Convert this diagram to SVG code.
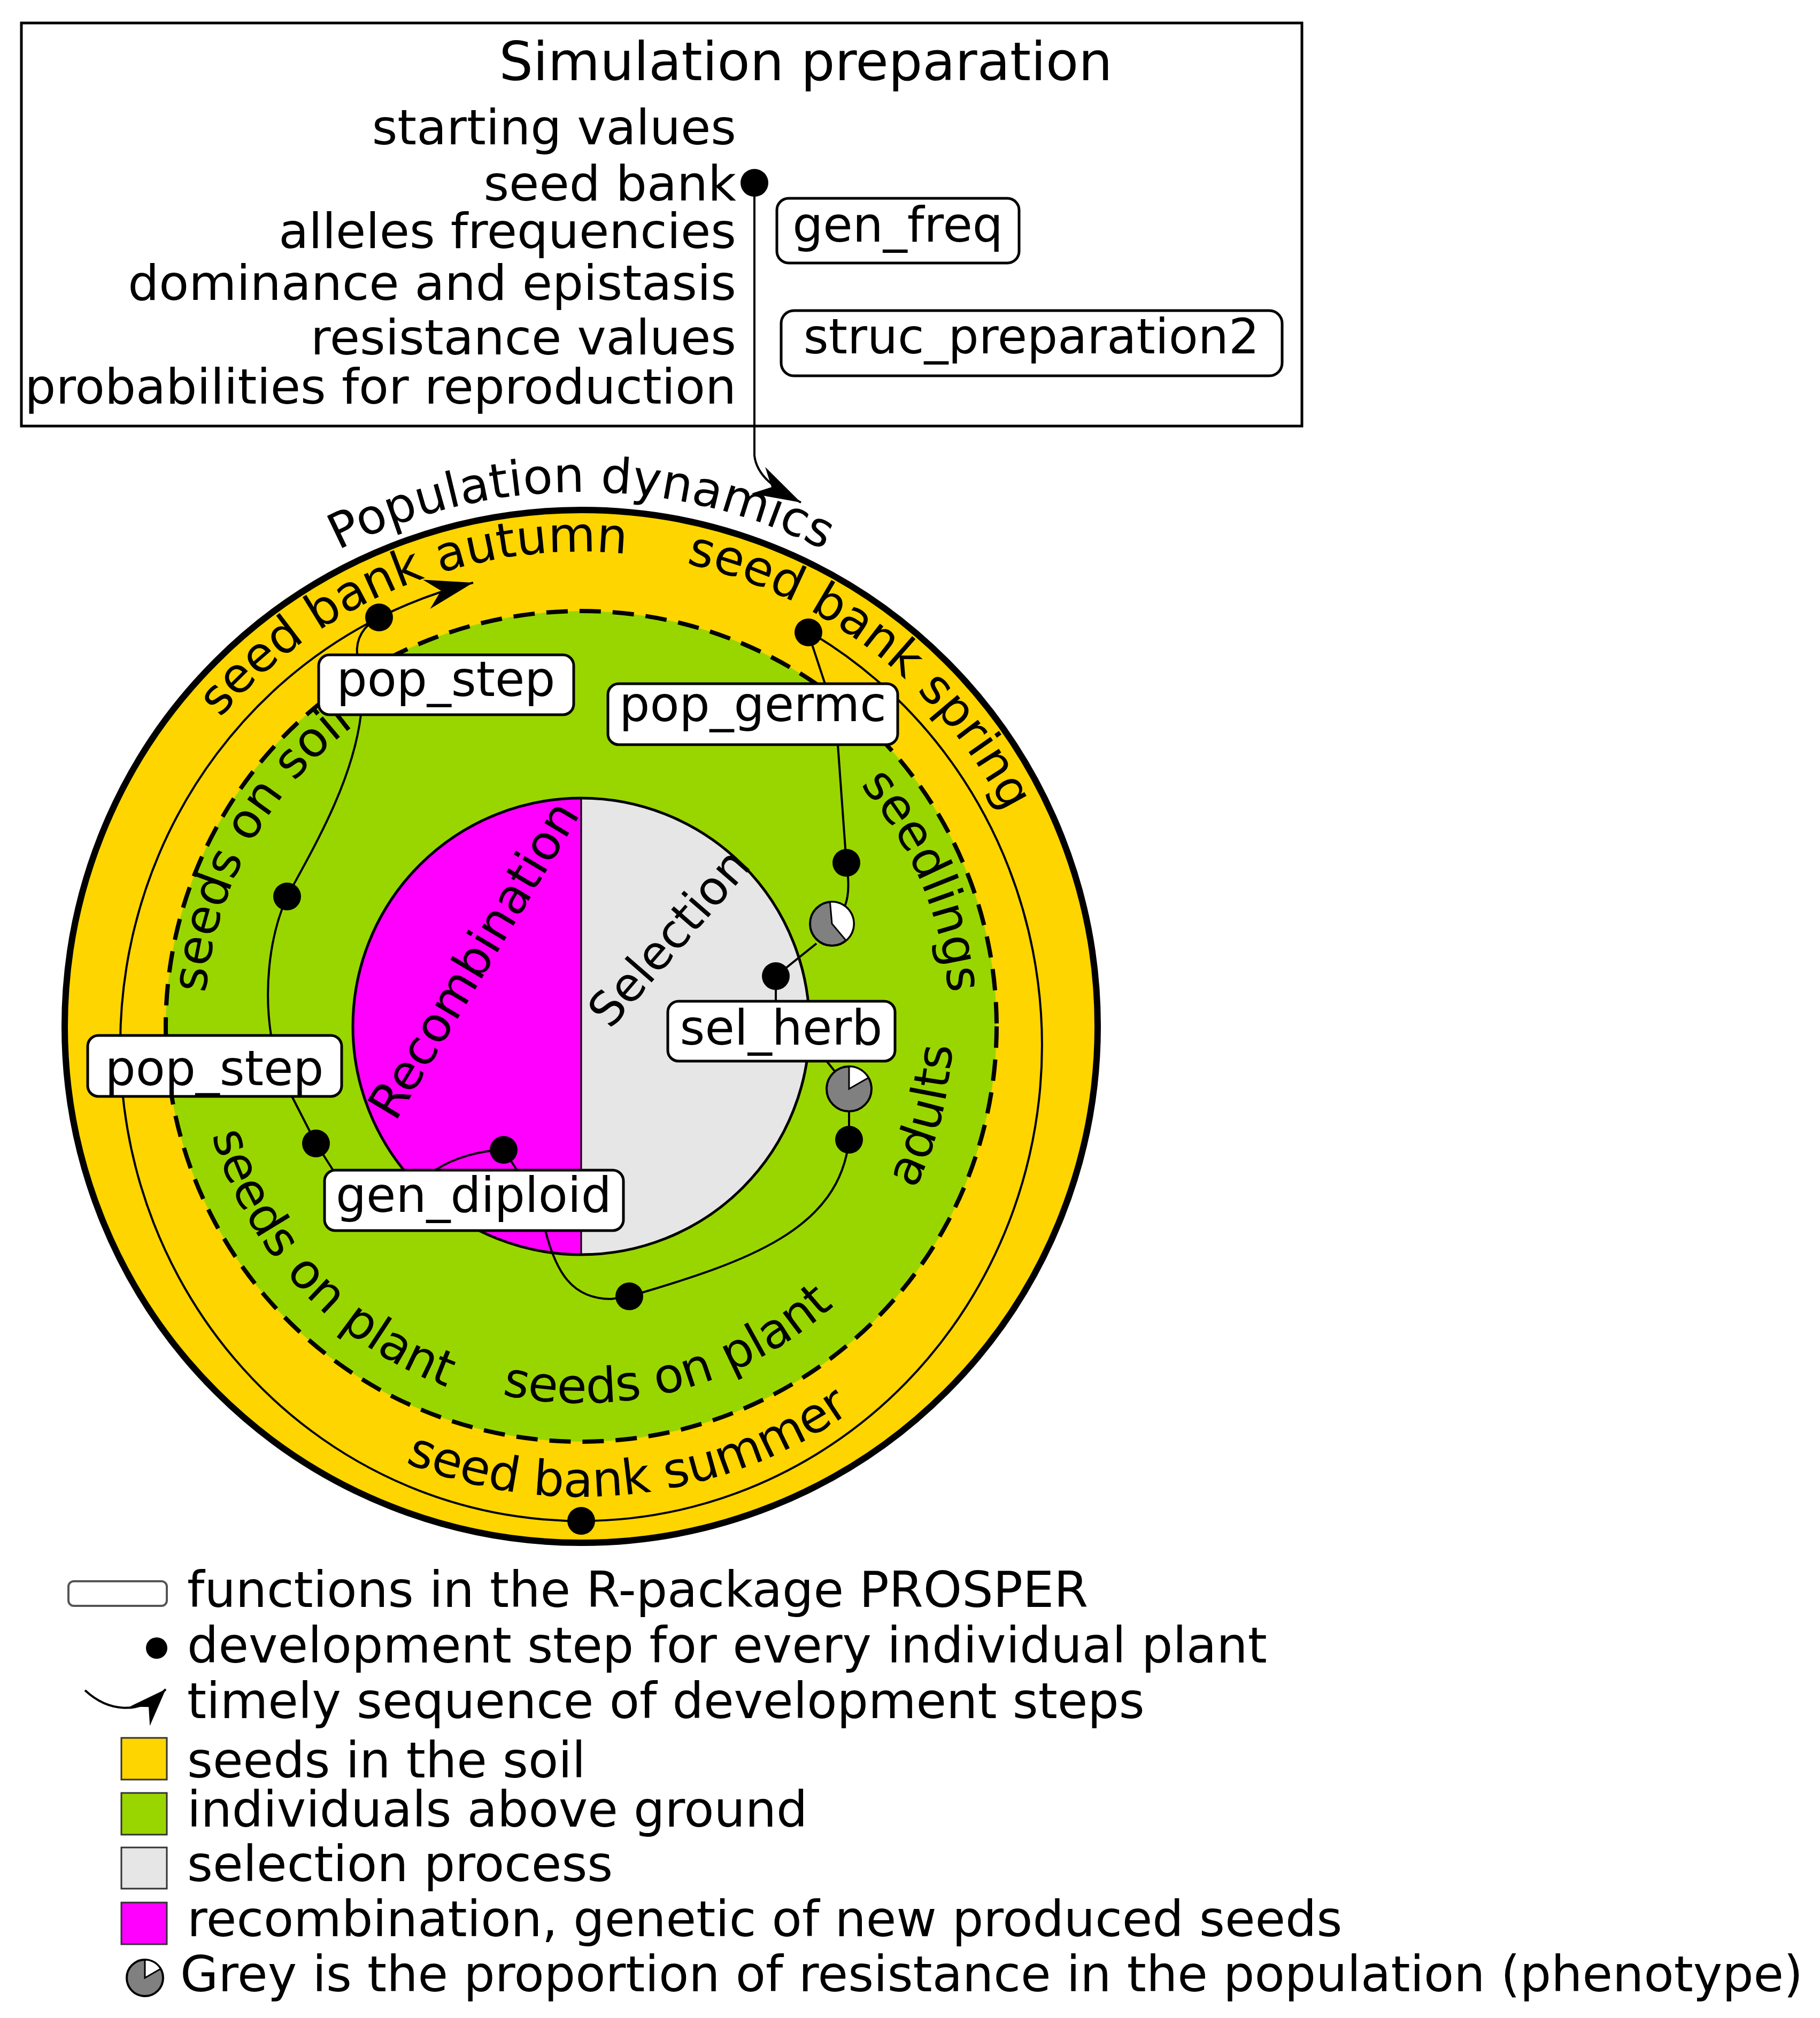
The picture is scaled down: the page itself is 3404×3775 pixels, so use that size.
<svg xmlns="http://www.w3.org/2000/svg" width="3404" height="3775" viewBox="0 0 3404 3775">
<style>
text{font-family:"DejaVu Sans","Liberation Sans",sans-serif;fill:#000}
.t90{font-size:90px}
.t91{font-size:91.5px}
.arc{font-size:91px}
.leg{font-size:92px}
.box{fill:#fff;stroke:#000;stroke-width:5}
.dot{fill:#000}
.ln{fill:none;stroke:#000;stroke-width:4}
.pie{fill:#808080;stroke:#000;stroke-width:4}
.wedge{fill:#fff;stroke:#000;stroke-width:3}
</style>
<defs>
<marker id="arr" markerUnits="userSpaceOnUse" markerWidth="120" markerHeight="80" viewBox="-95 -40 100 80" refX="0" refY="0" orient="auto">
<path d="M0,0 L-90,-28 L-62,0 L-90,28 Z" fill="#000"/>
</marker>
<marker id="arrS" markerUnits="userSpaceOnUse" markerWidth="80" markerHeight="60" viewBox="-75 -30 80 60" refX="0" refY="0" orient="auto">
<path d="M0,0 L-70,-26 L-46,0 L-70,26 Z" fill="#000"/>
</marker>
<path id="pPop" d="M102.2,1746.4 A1000,1000 0 0,1 2071.8,1746.4"/>
<path id="pAut" d="M218.4,2104.6 A888,888 0 0,1 1840,1449.4"/>
<path id="pSpr" d="M492.8,1260.1 A888,888 0 0,1 1871,2336.9"/>
<path id="pSum" d="M243.3,2169.9 A880,880 0 0,0 1965.4,1973.7"/>
<path id="pSoil" d="M643.3,2467.9 A705,705 0 0,1 1316.5,1253.4"/>
<path id="pSeedl" d="M931.8,1247.7 A690,690 0 0,1 1462.8,2498.7"/>
<path id="pAdu" d="M1032.4,2612.8 A695,695 0 0,0 1375.2,1287.6"/>
<path id="pPl1" d="M512,1486.7 A720,720 0 0,0 1479.1,2523.9"/>
<path id="pPl2" d="M448.1,2217.9 A705,705 0 0,0 1789.3,1858.6"/>
</defs>
<rect width="3404" height="3775" fill="#fff"/>

<g id="prep">
<rect x="40" y="43" width="2395" height="754" fill="#fff" stroke="#000" stroke-width="5"/>
<text x="1507" y="150" font-size="100" text-anchor="middle">Simulation preparation</text>
<g class="t91" text-anchor="end">
<text x="1377" y="270">starting values</text>
<text x="1377" y="375">seed bank</text>
<text x="1377" y="464">alleles frequencies</text>
<text x="1377" y="561">dominance and epistasis</text>
<text x="1377" y="663">resistance values</text>
<text x="1377" y="755">probabilities for reproduction</text>
</g>
</g>

<g id="rings">
<circle cx="1087" cy="1920" r="966" fill="#FFD500" stroke="#000" stroke-width="12"/>
<circle cx="1087" cy="1920" r="777" fill="#99D600" stroke="#000" stroke-width="8" stroke-dasharray="40 22"/>
<path d="M1087,1493 A427,427 0 0,0 1087,2347 Z" fill="#FF00FF"/>
<path d="M1087,1493 A427,427 0 0,1 1087,2347 Z" fill="#E6E6E6"/>
<circle cx="1087" cy="1920" r="427" fill="none" stroke="#000" stroke-width="5"/>
<line x1="1087" y1="1493" x2="1087" y2="2347" stroke="#000" stroke-width="3"/>
</g>

<g id="labels" class="arc" text-anchor="middle">
<text><textPath href="#pPop" startOffset="50%">Population dynamics</textPath></text>
<text><textPath href="#pAut" startOffset="50%">seed bank autumn</textPath></text>
<text><textPath href="#pSpr" startOffset="50%">seed bank spring</textPath></text>
<text><textPath href="#pSum" startOffset="50%">seed bank summer</textPath></text>
<text><textPath href="#pSoil" startOffset="50%">seeds on soil</textPath></text>
<text><textPath href="#pSeedl" startOffset="50%">seedlings</textPath></text>
<text><textPath href="#pAdu" startOffset="50%">adults</textPath></text>
<text><textPath href="#pPl1" startOffset="50%">seeds on plant</textPath></text>
<text><textPath href="#pPl2" startOffset="50%">seeds on plant</textPath></text>
<text font-size="90" transform="rotate(-59 885 1795)" x="885" y="1827">Recombination</text>
<text font-size="88" transform="rotate(-49 1250 1753)" x="1250" y="1785">Selection</text>
</g>

<g id="connectors">
<path class="ln" d="M1411,342 L1411,852 C1415,890 1450,915 1498,940" marker-end="url(#arr)"/>
<path class="ln" stroke-width="3" d="M1512,1181 A862,890 0 1,1 885,1090" marker-end="url(#arr)"/>
<path class="ln" d="M709,1155 C680,1170 665,1195 668,1225"/>
<path class="ln" d="M675,1337 C660,1460 590,1580 537,1677 C500,1760 495,1860 507,1937"/>
<path class="ln" d="M546,2051 L591,2139 L623,2189"/>
<path class="ln" d="M814,2189 C850,2165 900,2152 942,2151 L967,2189"/>
<path class="ln" d="M1020,2302 C1040,2380 1070,2430 1143,2430 L1177,2425 C1400,2360 1570,2300 1588,2132 L1588,2037"/>
<path class="ln" d="M1546,1985 L1588,2037"/>
<path class="ln" d="M1451,1873 L1451,1826 L1527,1765"/>
<path class="ln" d="M1556,1728 C1590,1700 1590,1660 1583,1614 L1567,1393"/>
<path class="ln" d="M1512,1185 L1543,1279"/>
</g>

<g id="dots">
<circle class="dot" cx="1411" cy="342" r="26"/>
<circle class="dot" cx="709" cy="1155" r="26"/>
<circle class="dot" cx="1512" cy="1183" r="26"/>
<circle class="dot" cx="1583" cy="1614" r="26"/>
<circle class="dot" cx="1451" cy="1826" r="26"/>
<circle class="dot" cx="537" cy="1677" r="26"/>
<circle class="dot" cx="591" cy="2139" r="26"/>
<circle class="dot" cx="942" cy="2151" r="26"/>
<circle class="dot" cx="1588" cy="2132" r="26"/>
<circle class="dot" cx="1177" cy="2425" r="26"/>
<circle class="dot" cx="1087" cy="2845" r="26"/>
</g>

<g id="pie1">
<circle class="pie" cx="1556" cy="1728" r="41"/>
<path class="wedge" d="M1556,1728 L1552.4,1687.2 A41,41 0 0,1 1582.4,1759.4 Z"/>
</g>
<g id="pie2">
<circle class="pie" cx="1588" cy="2037" r="42"/>
<path class="wedge" d="M1588,2037 L1588,1995 A42,42 0 0,1 1624.4,2016 Z"/>
</g>

<g id="gen_freq"><rect class="box" x="1453" y="371" width="453" height="121" rx="22"/><text class="t90" x="1679" y="452" text-anchor="middle">gen_freq</text></g>
<g id="struc_preparation2"><rect class="box" stroke-width="7" x="1461" y="581" width="937" height="122" rx="24"/><text class="t90" x="1929" y="661" text-anchor="middle">struc_preparation2</text></g>
<g id="pop_step_top"><rect class="box" x="596" y="1225" width="477" height="112" rx="20"/><text class="t90" x="834" y="1302" text-anchor="middle">pop_step</text></g>
<g id="pop_germc"><rect class="box" x="1137" y="1279" width="542" height="114" rx="20"/><text class="t90" x="1408" y="1349" text-anchor="middle">pop_germc</text></g>
<g id="sel_herb"><rect class="box" x="1249" y="1873" width="425" height="112" rx="20"/><text class="t90" x="1461" y="1954" text-anchor="middle">sel_herb</text></g>
<g id="pop_step_left"><rect class="box" x="164" y="1937" width="475" height="114" rx="20"/><text class="t90" x="401" y="2030" text-anchor="middle">pop_step</text></g>
<g id="gen_diploid"><rect class="box" x="607" y="2189" width="559" height="113" rx="20"/><text class="t90" x="886" y="2267" text-anchor="middle">gen_diploid</text></g>

<g id="legend">
<rect x="128" y="2958" width="184" height="46" rx="10" fill="#fff" stroke="#555" stroke-width="4"/>
<circle class="dot" cx="293" cy="3083" r="20"/>
<path class="ln" stroke-width="4" d="M159,3162 C200,3200 260,3212 310,3160" marker-end="url(#arrS)"/>
<rect x="227" y="3251" width="85" height="78" fill="#FFD500" stroke="#333" stroke-width="3"/>
<rect x="227" y="3354" width="85" height="78" fill="#99D600" stroke="#333" stroke-width="3"/>
<rect x="227" y="3456" width="85" height="77" fill="#E6E6E6" stroke="#333" stroke-width="3"/>
<rect x="227" y="3559" width="85" height="78" fill="#FF00FF" stroke="#333" stroke-width="3"/>
<circle class="pie" cx="271" cy="3700" r="34"/>
<path class="wedge" d="M271,3700 L271,3666 A34,34 0 0,1 300.4,3683 Z"/>
<g class="leg">
<text x="350" y="3006">functions in the R-package PROSPER</text>
<text x="350" y="3110">development step for every individual plant</text>
<text x="350" y="3214">timely sequence of development steps</text>
<text x="350" y="3325">seeds in the soil</text>
<text x="350" y="3417">individuals above ground</text>
<text x="350" y="3519">selection process</text>
<text x="350" y="3622">recombination, genetic of new produced seeds</text>
<text x="337" y="3725">Grey is the proportion of resistance in the population (phenotype)</text>
</g>
</g>
</svg>
